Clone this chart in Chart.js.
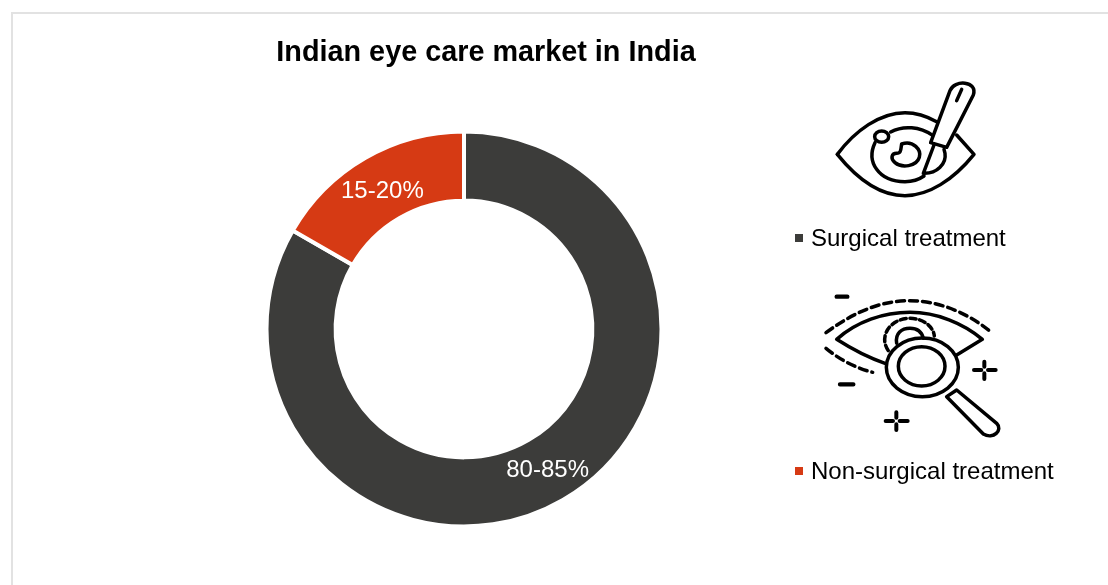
<!DOCTYPE html>
<html>
<head>
<meta charset="utf-8">
<title>Indian eye care market in India</title>
<script src="https://cdn.jsdelivr.net/npm/chart.js@4/dist/chart.umd.min.js"></script>
<style>
  html, body { margin: 0; padding: 0; background: #fff; overflow: hidden; }
  body { width: 1108px; height: 585px; position: relative; font-family: "Liberation Sans", Arial, sans-serif; color: #000; }
  #frame { position: absolute; left: 11px; top: 12px; right: -4px; bottom: -4px; border: 2px solid #e2e2e2; }
  #myChart { position: absolute; left: 0; top: 0; }
  h1 { position: absolute; left: 186px; width: 600px; top: 35px; margin: 0; text-align: center; font-size: 28.8px; line-height: 32px; font-weight: bold; }
  .legend-item { position: absolute; left: 795px; font-size: 24px; line-height: 28px; white-space: nowrap; }
  .legend-item i { display: inline-block; width: 8px; height: 8px; margin-right: 8px; vertical-align: 4px; }
  svg { position: absolute; fill: none; stroke: #000; stroke-width: 10.5; stroke-linecap: round; stroke-linejoin: round; }
</style>
</head>
<body>
<div id="frame"></div>
<canvas id="myChart" width="1108" height="585"></canvas>
<h1 id="title"></h1>

<!-- scalpel over an eye -->
<svg style="left:780px;top:70px" width="300" height="190" viewBox="0 0 900 570">
  <path d="M172 253 C225 182 300 128 375 128 C410 128 440 138 470 155"/>
  <path d="M530 195 L582 253 C520 330 445 377 375 377 C300 377 230 325 172 253"/>
  <path d="M332 186 C370 165 420 170 458 196"/>
  <path d="M285 218 C258 275 295 335 375 335 C395 335 415 330 432 318"/>
  <ellipse cx="305" cy="200" rx="21" ry="17"/>
  <path d="M365 222 C400 210 425 240 418 262 C410 290 365 295 345 278 C330 265 335 250 350 250 C365 250 362 235 365 222Z"/>
  <path d="M452 218 L510 62 C522 28 594 32 580 75 L500 232 Z"/>
  <path d="M530 92 L545 58"/>
  <path d="M462 225 L430 310 C470 312 500 282 495 250 L492 238"/>
</svg>

<!-- magnifier over an eye -->
<svg style="left:780px;top:280px" width="300" height="210" viewBox="0 0 900 630">
  <path d="M170 50 H202 M180 313 H220" stroke-width="13"/>
  <path d="M138 158 C230 90 310 62 390 62 C470 62 560 95 635 158" stroke-dasharray="24 15"/>
  <path d="M138 205 C180 240 230 265 278 277" stroke-dasharray="24 15"/>
  <path d="M315 250 C270 235 220 210 170 178 C230 125 310 97 390 97 C470 97 550 130 607 178 L530 225"/>
  <path d="M325 212 C295 170 330 115 390 115 C430 115 460 140 463 168" stroke-dasharray="18 11"/>
  <path d="M350 190 C345 160 365 145 390 145 C410 145 425 155 430 175"/>
  <ellipse cx="427" cy="262" rx="108" ry="88"/>
  <ellipse cx="425" cy="259" rx="70" ry="59"/>
  <path d="M500 350 L530 330 L650 430 C670 450 640 480 610 462 Z"/>
  <path d="M582 270 H604 M624 270 H647 M613 245 V260 M613 280 V297" stroke-width="12"/>
  <path d="M317 423 H339 M359 423 H383 M349 397 V413 M349 433 V450" stroke-width="12"/>
</svg>

<script>
var titleText = 'Indian eye care market in India';
var categories = ['Surgical treatment', 'Non-surgical treatment'];
var shares = [83.3, 16.7];
var shareLabels = ['80-85%', '15-20%'];
var colors = ['#3c3c3a', '#d63a14'];
var legendTops = [224, 457];

document.getElementById('title').textContent = titleText;

// legend entries sit under their icons, so they are plain elements
categories.forEach(function (name, i) {
    var item = document.createElement('div');
    item.className = 'legend-item';
    item.style.top = legendTops[i] + 'px';
    var mark = document.createElement('i');
    mark.style.background = colors[i];
    item.appendChild(mark);
    item.appendChild(document.createTextNode(name));
    document.body.appendChild(item);
});

var sliceLabels = {
    id: 'sliceLabels',
    afterDatasetsDraw: function (chart) {
        var ctx = chart.ctx;
        var arcs = chart.getDatasetMeta(0).data;
        // small nudges off the ring centre line, per slice
        var nudgeX = [2, 0];
        var nudgeY = [0, 3];
        ctx.save();
        ctx.font = '24px "Liberation Sans", Arial, sans-serif';
        ctx.fillStyle = '#fff';
        ctx.textAlign = 'center';
        ctx.textBaseline = 'middle';
        arcs.forEach(function (arc, i) {
            var p = arc.getCenterPoint();
            ctx.fillText(shareLabels[i], p.x + nudgeX[i], p.y + nudgeY[i]);
        });
        ctx.restore();
    }
};

var options = {
    type: 'doughnut',
    data: {
        labels: categories,
        datasets: [{
            data: shares,
            backgroundColor: colors,
            borderColor: '#fff',
            borderWidth: 4
        }]
    },
    options: {
        responsive: false,
        animation: false,
        cutout: '65%',
        layout: { padding: { left: 0, right: 180, top: 129.5, bottom: 56.5 } },
        plugins: {
            legend: { display: false },
            tooltip: { enabled: false }
        }
    },
    plugins: [sliceLabels]
};

var chart = new Chart(document.getElementById('myChart'), options);
</script>
</body>
</html>
